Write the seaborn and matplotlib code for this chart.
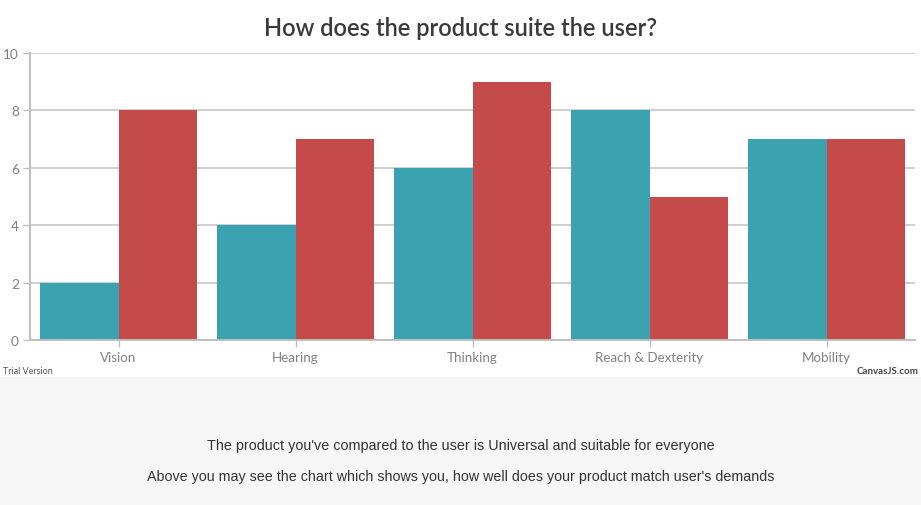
import matplotlib
matplotlib.use("Agg")
import matplotlib.pyplot as plt
import seaborn as sns
import pandas as pd
from matplotlib.patches import Rectangle

categories = ["Vision", "Hearing", "Thinking", "Reach & Dexterity", "Mobility"]
product_values = [2, 4, 6, 8, 7]
user_values = [8, 7, 9, 5, 7]
series_names = ["Product", "User"]
yticks = [0, 2, 4, 6, 8, 10]

df = pd.DataFrame({
    "category": categories * 2,
    "value": product_values + user_values,
    "series": [series_names[0]] * len(categories) + [series_names[1]] * len(categories),
})

sns.set_theme(style="white")
plt.rcParams["font.family"] = ["Lato", "DejaVu Sans"]

W, H = 921, 506
fig = plt.figure(figsize=(W / 100, H / 100), dpi=100)
fig.patch.set_facecolor("white")
fig.patches.append(Rectangle((0, 0), 1, (H - 378) / H, transform=fig.transFigure,
                             facecolor="#f6f6f6", edgecolor="none", zorder=0))

ax = fig.add_axes([30 / W, (H - 341) / H, (915 - 30) / W, (341 - 54) / H])
ax.set_facecolor("white")
sns.barplot(data=df, x="category", y="value", hue="series", ax=ax,
            palette=["#3aa2b0", "#c44b4a"], width=0.89, saturation=1,
            edgecolor="none", linewidth=0, legend=False)

ax.set_xlim(-0.5, 4.5)
ax.set_ylim(0, 10)
ax.set_yticks(yticks)
ax.set_yticklabels([str(v) for v in yticks])
ax.grid(axis="y", color="#cfcfcf", linewidth=1.4)
ax.set_axisbelow(True)
for s in ["top", "right"]:
    ax.spines[s].set_visible(False)
ax.spines["left"].set_color("#bfbfbf")
ax.spines["left"].set_linewidth(1.4)
ax.spines["bottom"].set_color("#bfbfbf")
ax.spines["bottom"].set_linewidth(1.4)
ax.tick_params(axis="x", bottom=True, length=5, width=1, color="#bfbfbf",
               labelsize=9.6, labelcolor="#808080", pad=3)
ax.tick_params(axis="y", left=True, length=5, width=1, color="#bfbfbf",
               labelsize=9.8, labelcolor="#808080", pad=3)
ax.set_xlabel("")
ax.set_ylabel("")

fig.text(0.5, (H - 29) / H, "How does the product suite the user?", ha="center", va="center",
         fontsize=17, color="#3a3a3a", fontweight="semibold")
fig.text(3 / W, (H - 372) / H, "Trial Version", ha="left", va="center",
         fontsize=6.5, color="#555555")
fig.text(918 / W, (H - 372) / H, "CanvasJS.com", ha="right", va="center",
         fontsize=7, color="#444444", fontweight="bold")

fig.text(0.5, (H - 446) / H,
         "The product you've compared to the user is Universal and suitable for everyone",
         ha="center", va="center", fontsize=10.4, color="#333333", family=["Liberation Sans"])
fig.text(0.5, (H - 477) / H,
         "Above you may see the chart which shows you, how well does your product match user's demands",
         ha="center", va="center", fontsize=10.3, color="#333333", family=["Liberation Sans"])

fig.savefig("out.png", dpi=100)
